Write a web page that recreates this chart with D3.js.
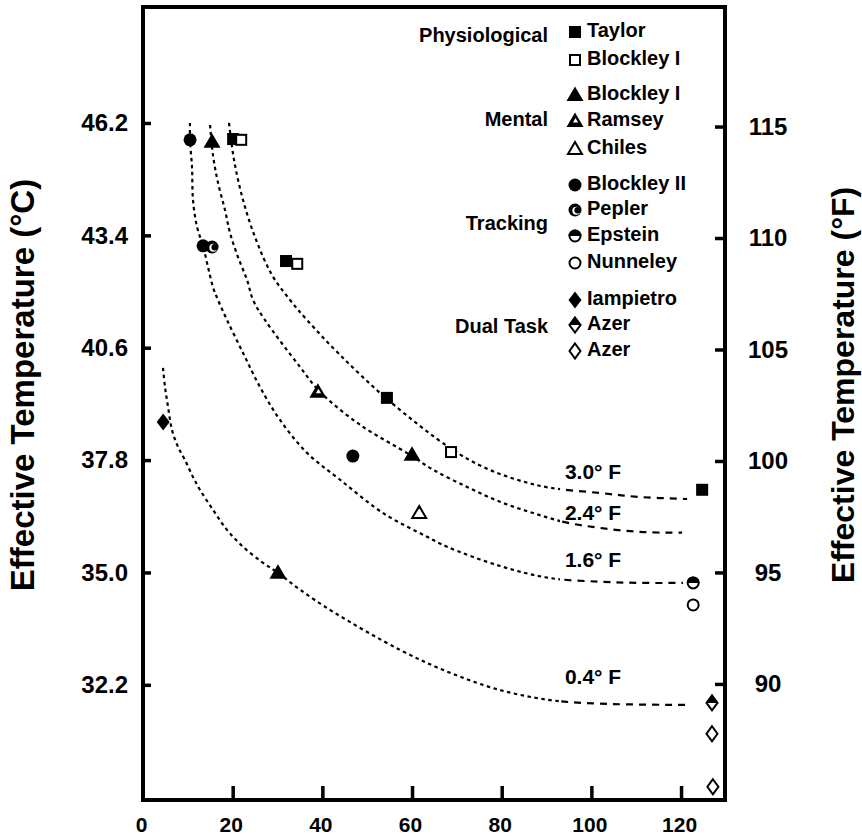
<!DOCTYPE html>
<html><head><meta charset="utf-8">
<script src="https://cdn.jsdelivr.net/npm/d3@7"></script>
<style>
html,body{margin:0;padding:0;background:#fff;}
svg text{font-family:"Liberation Sans",Arial,Helvetica,sans-serif;font-weight:bold;fill:#000;}
</style></head>
<body><svg id="chart" width="862" height="838"></svg>
<script>
// ---- data (x = time in minutes, y = effective temperature °C) ----
const xTicks = [0, 20, 40, 60, 80, 100, 120];
const cTicks = [32.2, 35.0, 37.8, 40.6, 43.4, 46.2];
const fTicks = [90, 95, 100, 105, 110, 115];

const taylor          = [[20.1,45.80],[31.9,42.76],[54.4,39.35],[124.7,37.06]];
const blockleyIPhys   = [[21.9,45.78],[34.4,42.69],[68.7,38.00]];
const blockleyIMental = [[15.4,45.73],[30.1,34.99],[60.0,37.93]];
const ramsey          = [[39.0,39.50]];
const chiles          = [[61.6,36.48]];
const blockleyII      = [[10.5,45.78],[13.4,43.14],[46.8,37.90]];
const pepler          = [[15.4,43.11]];
const epstein         = [[122.7,34.74]];
const nunneley        = [[122.7,34.19]];
const iampietro       = [[4.5,38.75]];
const azerHalf        = [[126.9,31.75]];
const azerOpen        = [[126.9,30.98],[127.1,29.66]];

const curve30 = [[19.18,46.20],[20.30,45.28],[22.31,44.28],[25.21,43.29],[28.78,42.41],[32.79,41.79],[36.58,41.29],[43.94,40.42],[54.65,39.30],[68.48,38.10],[75.84,37.63],[83.43,37.31],[90.79,37.11],[101.94,36.98],[110.86,36.88],[121.35,36.83]];
const curve24 = [[14.95,46.15],[15.61,45.40],[16.73,44.71],[18.29,44.03],[19.41,43.46],[21.19,42.86],[23.20,42.29],[24.54,41.79],[27.21,41.29],[35.02,40.12],[39.48,39.50],[48.40,38.68],[59.56,37.93],[64.69,37.56],[72.27,37.13],[79.63,36.76],[87.00,36.48],[94.58,36.24],[101.94,36.11],[110.86,36.01],[120.23,35.99]];
const curve16 = [[10.48,46.20],[10.48,45.78],[10.93,45.10],[11.15,44.28],[12.05,43.61],[13.38,43.14],[14.50,42.61],[15.61,42.11],[16.73,41.79],[18.74,41.29],[22.31,40.47],[26.10,39.62],[30.56,38.80],[36.58,37.98],[43.94,37.31],[53.54,36.48],[63.35,35.89],[67.81,35.64],[79.63,35.16],[90.79,34.86],[101.94,34.77],[110.86,34.74],[120.45,34.74]];
const curve04 = [[4.46,40.10],[4.91,39.62],[5.58,39.13],[6.47,38.55],[7.81,38.13],[9.37,37.80],[11.15,37.38],[12.71,37.06],[15.61,36.56],[18.74,36.06],[22.31,35.64],[26.77,35.24],[30.11,34.99],[35.02,34.57],[42.38,34.02],[57.33,33.07],[68.48,32.50],[79.63,32.07],[90.79,31.82],[101.94,31.73],[121.57,31.70]];

const curveLabels = ["3.0° F", "2.4° F", "1.6° F", "0.4° F"];
const curveLabelX = [94.1, 94.1, 94.1, 94.1];
const curveLabelY = [37.33, 36.31, 35.14, 32.22];

const groupNames = ["Physiological", "Mental", "Tracking", "Dual Task"];
const legendNames = ["Taylor","Blockley I","Blockley I","Ramsey","Chiles","Blockley II","Pepler","Epstein","Nunneley","Iampietro","Azer","Azer"];
const legendShapes = ["sq","sqo","tri","triR","trio","circ","circP","circE","circo","dia","diaH","diao"];

// ---- layout ----
const svg = d3.select("#chart");
const L = 143, R = 725, T = 7, B = 800;
const x = d3.scaleLinear().domain([0, 129.8]).range([L, R]);
const y = d3.scaleLinear().domain([29.33, 49.09]).range([B, T]);
const yF = d3.scaleLinear().domain(y.domain().map(c => c * 9 / 5 + 32)).range([B, T]);

// axes with inward ticks
const axL = svg.append("g").attr("transform", `translate(${L},0)`)
  .call(d3.axisLeft(y).tickValues(cTicks).tickFormat(d3.format(".1f")).tickSize(-8).tickPadding(15));
const axB = svg.append("g").attr("transform", `translate(0,${B})`)
  .call(d3.axisBottom(x).tickValues(xTicks).tickSize(-14).tickPadding(17));
const axR = svg.append("g").attr("transform", `translate(${R},0)`)
  .call(d3.axisRight(yF).tickValues(fTicks).tickSize(-10).tickPadding(43));
[axL, axB, axR].forEach(a => {
  a.select(".domain").remove();
  a.selectAll(".tick line").attr("stroke", "#000").attr("stroke-width", 3.5);
  a.selectAll(".tick text").style("font-size", "24px");
});
axB.selectAll(".tick text").style("font-size", "21px").attr("dx", "-2");
axB.selectAll(".tick").filter(d => d === 0).select("line").remove();
axR.selectAll(".tick text").attr("text-anchor", "middle");

// frame
svg.append("rect").attr("x", L).attr("y", T).attr("width", R - L).attr("height", B - T)
  .attr("fill", "none").attr("stroke", "#000").attr("stroke-width", 4);

// axis titles
svg.append("text").attr("transform", `translate(34,385) rotate(-90)`).attr("text-anchor", "middle")
  .style("font-size", "33px").text("Effective Temperature (°C)");
svg.append("text").attr("transform", `translate(854,385) rotate(-90)`).attr("text-anchor", "middle")
  .style("font-size", "32px").text("Effective Temperature (°F)");

// isopleth curves: short dashes on the bend, longer dashes on the flat tail
const defs = svg.append("defs");
const splitX = 560;
defs.append("clipPath").attr("id", "clipBend").append("rect").attr("x", 0).attr("y", 0).attr("width", splitX).attr("height", 838);
defs.append("clipPath").attr("id", "clipFlat").append("rect").attr("x", splitX).attr("y", 0).attr("width", 862 - splitX).attr("height", 838);
const line = d3.line().x(d => x(d[0])).y(d => y(d[1])).curve(d3.curveCatmullRom.alpha(0.5));
[curve30, curve24, curve16, curve04].forEach(c => {
  svg.append("path").attr("d", line(c)).attr("fill", "none").attr("stroke", "#000")
    .attr("stroke-width", 2.2).attr("stroke-dasharray", "3.5 3.5").attr("clip-path", "url(#clipBend)");
  svg.append("path").attr("d", line(c)).attr("fill", "none").attr("stroke", "#000")
    .attr("stroke-width", 2.2).attr("stroke-dasharray", "7 6").attr("clip-path", "url(#clipFlat)");
});
curveLabels.forEach((t, i) => {
  svg.append("text").attr("x", x(curveLabelX[i])).attr("y", y(curveLabelY[i]))
    .style("font-size", "21px").text(t);
});

// markers
function marker(g, type, cx, cy) {
  const s = g.append("g").attr("transform", `translate(${cx},${cy})`);
  const tri = "M0,-8.5L8.5,6L-8.5,6Z";
  const dia = "M0,-8.5L6.5,0L0,8.5L-6.5,0Z";
  switch (type) {
    case "sq": s.append("rect").attr("x", -6).attr("y", -6).attr("width", 12).attr("height", 12).attr("fill", "#000"); break;
    case "sqo": s.append("rect").attr("x", -5).attr("y", -5).attr("width", 10).attr("height", 10).attr("fill", "#fff").attr("stroke", "#000").attr("stroke-width", 2); break;
    case "tri": s.append("path").attr("d", tri).attr("fill", "#000"); break;
    case "triR":
      s.append("path").attr("d", tri).attr("fill", "#000");
      s.append("path").attr("d", "M0.5,-3L3.2,1.5L-2,1.5Z").attr("fill", "#fff"); break;
    case "trio": s.append("path").attr("d", "M0,-7L7,5L-7,5Z").attr("fill", "#fff").attr("stroke", "#000").attr("stroke-width", 2); break;
    case "circ": s.append("circle").attr("r", 6.5).attr("fill", "#000"); break;
    case "circP":
      s.append("circle").attr("r", 6.5).attr("fill", "#000");
      s.append("circle").attr("cx", 1.3).attr("cy", 0.8).attr("r", 4).attr("fill", "#fff");
      s.append("circle").attr("cx", 2.6).attr("cy", 0.3).attr("r", 3.2).attr("fill", "#000"); break;
    case "circE":
      s.append("circle").attr("r", 5.5).attr("fill", "#fff").attr("stroke", "#000").attr("stroke-width", 2);
      s.append("path").attr("d", "M-6.5,0A6.5,6.5 0 0 1 6.5,0Z").attr("fill", "#000"); break;
    case "circo": s.append("circle").attr("r", 5.5).attr("fill", "#fff").attr("stroke", "#000").attr("stroke-width", 2); break;
    case "dia": s.append("path").attr("d", dia).attr("fill", "#000"); break;
    case "diaH":
      s.append("path").attr("d", "M0,-7.5L5.5,0L0,7.5L-5.5,0Z").attr("fill", "#fff").attr("stroke", "#000").attr("stroke-width", 2);
      s.append("path").attr("d", "M0,-8.5L6.5,0L-6.5,0Z").attr("fill", "#000"); break;
    case "diao": s.append("path").attr("d", "M0,-7.5L5.5,0L0,7.5L-5.5,0Z").attr("fill", "#fff").attr("stroke", "#000").attr("stroke-width", 2); break;
  }
}
const seriesData = [taylor, blockleyIPhys, blockleyIMental, ramsey, chiles, blockleyII, pepler, epstein, nunneley, iampietro, azerHalf, azerOpen];
const pts = svg.append("g");
seriesData.forEach((arr, i) => arr.forEach(d => marker(pts, legendShapes[i], x(d[0]), y(d[1]))));

// legend
const legendRowY = [30, 58, 93, 119, 147, 183, 208, 234, 261, 298, 323, 349];
const groupRowY = [35, 119, 223, 326];
const lg = svg.append("g");
groupNames.forEach((n, i) => {
  lg.append("text").attr("x", 548).attr("y", groupRowY[i] + 7).attr("text-anchor", "end")
    .style("font-size", "20px").text(n);
});
legendNames.forEach((n, i) => {
  marker(lg, legendShapes[i], 575, legendRowY[i] + 2);
  lg.append("text").attr("x", 587).attr("y", legendRowY[i] + 7).style("font-size", "20px").text(n);
});
</script></body></html>
